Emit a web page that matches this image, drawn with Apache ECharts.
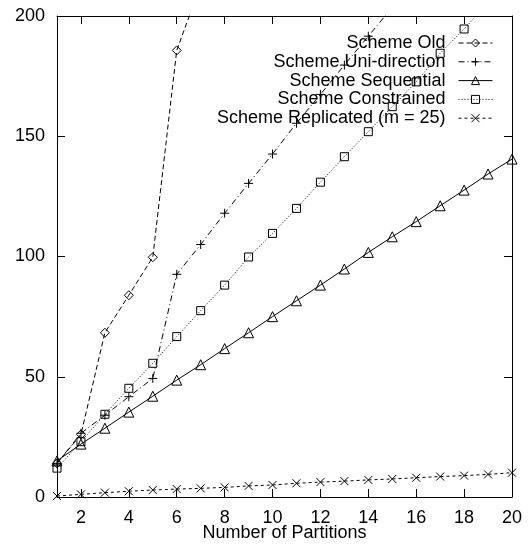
<!DOCTYPE html>
<html>
<head>
<meta charset="utf-8">
<script src="https://cdn.jsdelivr.net/npm/echarts@6/dist/echarts.min.js"></script>
<style>
html, body { margin: 0; padding: 0; background: #fff; }
#chart { width: 529px; height: 548px; }
</style>
</head>
<body>
<div id="chart"></div>
<script>
// x = number of partitions
var partitions = ['1','2','3','4','5','6','7','8','9','10','11','12','13','14','15','16','17','18','19','20'];
var schemeOld = [14, 26, 68.3, 83.9, 99.7, 185.7, 213];
var schemeUni = [14, 26.5, 34, 41.7, 49.3, 92.6, 105, 118, 130.4, 142.6, 155.4, 167.4, 179.6, 191.6, 203.6];
var schemeSeq = [15, 22, 28.6, 35.3, 41.9, 48.6, 55, 61.7, 68.3, 75, 81.6, 88.1, 94.8, 101.7, 108.2, 114.5, 121.1, 127.6, 134.3, 140.5];
var schemeCon = [12, 23, 34.4, 45.2, 55.6, 66.7, 77.5, 88.1, 99.8, 109.6, 120, 130.9, 141.5, 151.9, 162.3, 172.6, 184.5, 194.6, 205.6];
var schemeRep = [0.4, 1.1, 1.8, 2.4, 2.9, 3.3, 3.6, 4.0, 4.6, 5.0, 5.7, 6.2, 6.6, 7.1, 7.5, 8.0, 8.5, 8.9, 9.4, 10.1];
var yTicks = [0, 50, 100, 150, 200];

var names = ['Scheme Old', 'Scheme Uni-direction', 'Scheme Sequential', 'Scheme Constrained', 'Scheme Replicated (m = 25)'];
var font = 'Liberation Sans, Arial, sans-serif';
var plusPath = 'path://M0,5 L10,5 M5,0 L5,10';
var crossPath = 'path://M0,0 L10,10 M0,10 L10,0';

function evenOnly(index) { return index % 2 === 1; }

function mkSeries(name, data, symbol, size, dash) {
    return {
        name: name,
        type: 'line',
        data: data,
        symbol: symbol,
        symbolSize: size,
        showSymbol: true,
        clip: true,
        animation: false,
        itemStyle: {color: 'transparent', borderColor: '#000', borderWidth: 1},
        lineStyle: {color: '#000', width: 1, type: dash},
        emphasis: {disabled: true}
    };
}

var legends = names.map(function (n, i) {
    return {
        data: [n],
        orient: 'vertical',
        right: 36,
        top: 33 + i * 18.8,
        padding: 0,
        align: 'right',
        itemWidth: 34,
        itemHeight: 10,
        selectedMode: false,
        lineStyle: {width: 1},
        itemStyle: {borderWidth: 1},
        textStyle: {fontFamily: font, fontSize: 18, color: '#000', lineHeight: 20, padding: [0, 8, 0, 0]}
    };
});

function axLine() { return {show: true, onZero: false, lineStyle: {color: '#000', width: 1}}; }
function xTick() { return {show: true, inside: true, length: 8, interval: evenOnly, lineStyle: {color: '#000', width: 1}}; }
function yTick() { return {show: true, inside: true, length: 8, lineStyle: {color: '#000', width: 1}}; }

var chart = echarts.init(document.getElementById('chart'));
chart.setOption({
    backgroundColor: '#fff',
    animation: false,
    grid: {left: 57, right: 17, top: 16, bottom: 51, outerBoundsMode: 'none', containLabel: false},
    legend: legends,
    xAxis: [{
        type: 'category',
        data: partitions,
        boundaryGap: false,
        position: 'bottom',
        name: 'Number of Partitions',
        nameLocation: 'middle',
        nameGap: 27,
        nameMoveOverlap: false,
        nameTextStyle: {fontFamily: font, fontSize: 18, color: '#000'},
        axisLine: axLine(),
        axisTick: xTick(),
        axisLabel: {interval: evenOnly, margin: 12, fontFamily: font, fontSize: 18, color: '#000'},
        splitLine: {show: false}
    }, {
        type: 'category',
        data: partitions,
        boundaryGap: false,
        position: 'top',
        axisLine: axLine(),
        axisTick: xTick(),
        axisLabel: {show: false},
        splitLine: {show: false}
    }],
    yAxis: [{
        type: 'value',
        min: yTicks[0],
        max: yTicks[yTicks.length - 1],
        interval: 50,
        position: 'left',
        axisLine: axLine(),
        axisTick: yTick(),
        axisLabel: {margin: 12, fontFamily: font, fontSize: 18, color: '#000'},
        splitLine: {show: false}
    }, {
        type: 'value',
        min: yTicks[0],
        max: yTicks[yTicks.length - 1],
        interval: 50,
        position: 'right',
        axisLine: axLine(),
        axisTick: yTick(),
        axisLabel: {show: false},
        splitLine: {show: false}
    }],
    series: [
        mkSeries(names[0], schemeOld, 'diamond', 9, [5, 3]),
        mkSeries(names[1], schemeUni, plusPath, 9, [6, 3, 1, 3]),
        mkSeries(names[2], schemeSeq, 'triangle', 10, 'solid'),
        mkSeries(names[3], schemeCon, 'rect', 8, [1, 2]),
        mkSeries(names[4], schemeRep, crossPath, 8, [3, 3])
    ]
});
</script>
</body>
</html>
